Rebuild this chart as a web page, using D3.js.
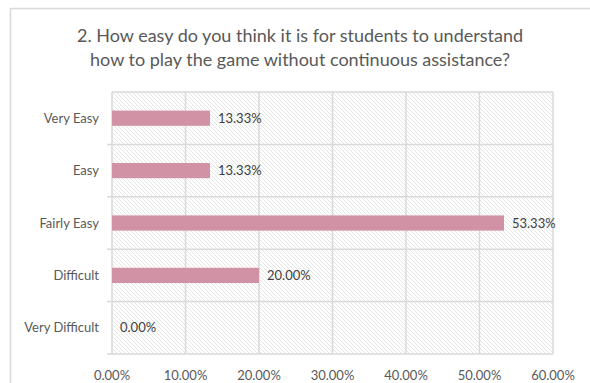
<!DOCTYPE html>
<html>
<head>
<meta charset="utf-8">
<script src="https://cdn.jsdelivr.net/npm/d3@7"></script>
<style>
  html, body { margin: 0; padding: 0; background: #fff; }
  svg { display: block; }
</style>
</head>
<body>
<svg id="chart" width="590" height="383"></svg>
<script>
// Survey question and response shares
const titleLines = [
  "2. How easy do you think it is for students to understand",
  "how to play the game without continuous assistance?"
];
const categories = ["Very Easy", "Easy", "Fairly Easy", "Difficult", "Very Difficult"];
const values = [13.33, 13.33, 53.33, 20.00, 0.00];
const xTicks = [0, 10, 20, 30, 40, 50, 60];

const W = 590, H = 383;
const margin = { left: 112, right: 37, top: 92, bottom: 29 };
const fontFamily = "Lato, 'Open Sans', sans-serif";

const svg = d3.select("#chart");

// Diagonal hatch fill for the plot background
const defs = svg.append("defs");
const pat = defs.append("pattern")
  .attr("id", "hatch")
  .attr("patternUnits", "userSpaceOnUse")
  .attr("width", 4).attr("height", 4);
pat.append("rect").attr("width", 4).attr("height", 4).attr("fill", "#ffffff");
pat.append("path")
  .attr("d", "M-1,-1 L5,5 M-1,3 L1,5 M3,-1 L5,1")
  .attr("stroke", "#dedede").attr("stroke-width", 0.8);

// Chart frame
svg.append("rect")
  .attr("x", 10.5).attr("y", 8.5)
  .attr("width", 600).attr("height", 400)
  .attr("fill", "#fff")
  .attr("stroke", "#d9d9d9").attr("stroke-width", 1.5);

// Title
svg.append("text")
  .attr("x", 300).attr("y", 42)
  .attr("text-anchor", "middle")
  .attr("font-family", fontFamily)
  .attr("font-size", 18)
  .attr("fill", "#595959")
  .selectAll("tspan")
  .data(titleLines)
  .join("tspan")
  .attr("x", 300)
  .attr("dy", (d, i) => i === 0 ? 0 : 24)
  .text(d => d);

const x = d3.scaleLinear().domain([0, 60]).range([margin.left, W - margin.right]);
const y = d3.scaleBand().domain(categories).range([margin.top, H - margin.bottom]).paddingInner(0.71).paddingOuter(0.355);
const rowY = d3.scaleBand().domain(categories).range([margin.top, H - margin.bottom]);

const plotTop = margin.top, plotBottom = H - margin.bottom;

// Hatched plot area
svg.append("rect")
  .attr("x", x(0)).attr("y", plotTop)
  .attr("width", x(60) - x(0)).attr("height", plotBottom - plotTop)
  .attr("fill", "url(#hatch)");

const gridColor = "#d9d9d9";

// Vertical gridlines
svg.append("g")
  .selectAll("line")
  .data(xTicks)
  .join("line")
  .attr("x1", d => x(d)).attr("x2", d => x(d))
  .attr("y1", plotTop).attr("y2", plotBottom)
  .attr("stroke", gridColor).attr("stroke-width", 1.5);

// Horizontal row separators, extending left as category tick marks
const bounds = categories.map(c => rowY(c)).concat([plotBottom]);
svg.append("g")
  .selectAll("line")
  .data(bounds)
  .join("line")
  .attr("x1", (d, i) => i === 0 ? x(0) : x(0) - 5)
  .attr("x2", x(60))
  .attr("y1", d => d).attr("y2", d => d)
  .attr("stroke", gridColor).attr("stroke-width", 1.5);

// Bars
svg.append("g")
  .selectAll("rect")
  .data(categories)
  .join("rect")
  .attr("x", x(0))
  .attr("y", c => y(c))
  .attr("width", (c, i) => x(values[i]) - x(0))
  .attr("height", y.bandwidth())
  .attr("fill", "#d192a5");

// Value labels
svg.append("g")
  .selectAll("text")
  .data(categories)
  .join("text")
  .attr("x", (c, i) => x(values[i]) + 8)
  .attr("y", c => y(c) + y.bandwidth() / 2)
  .attr("dy", "0.35em")
  .attr("font-family", fontFamily)
  .attr("font-size", 13)
  .attr("fill", "#404040")
  .text((c, i) => values[i].toFixed(2) + "%");

// Category axis labels
svg.append("g")
  .selectAll("text")
  .data(categories)
  .join("text")
  .attr("x", 99)
  .attr("y", c => rowY(c) + rowY.bandwidth() / 2)
  .attr("dy", "0.35em")
  .attr("text-anchor", "end")
  .attr("font-family", fontFamily)
  .attr("font-size", 13)
  .attr("fill", "#595959")
  .text(c => c);

// Value axis labels
svg.append("g")
  .selectAll("text")
  .data(xTicks)
  .join("text")
  .attr("x", d => x(d))
  .attr("y", 380)
  .attr("text-anchor", "middle")
  .attr("font-family", fontFamily)
  .attr("font-size", 13)
  .attr("fill", "#595959")
  .text(d => d.toFixed(2) + "%");
</script>
</body>
</html>
